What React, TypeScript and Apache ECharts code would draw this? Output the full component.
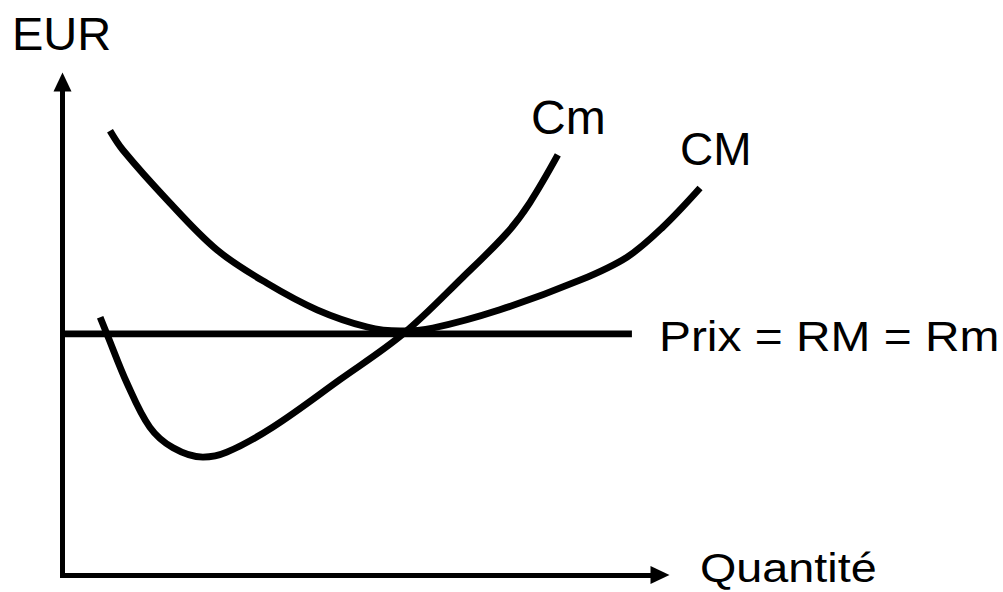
import React, { useEffect, useRef } from "react";
import * as echarts from "echarts";

// Axis ranges (arbitrary units: quantity and EUR)
const xRange = [0, 100];
const yRange = [0, 100];
// Wider, invisible plotting range so the CM curve may run past the arrow
const xPlotRange = [0, 110];

// Marginal cost curve (Cm): [quantity, EUR]
const cmPoints: number[][] = [
  [6.3, 52.3], [7.5, 48.7], [10.8, 38.9], [14.6, 30.0], [18.5, 25.8],
  [23.5, 23.9], [27.5, 24.9], [35.2, 30.0], [46.4, 39.6], [57.0, 48.9],
  [67.0, 60.4], [74.4, 69.4], [78.2, 75.5], [82.9, 85.2],
];

// Average cost curve (CM): [quantity, EUR]
const avgCostPoints: number[][] = [
  [7.95, 90.1], [10.1, 86.2], [17.5, 76.1], [25.9, 65.9], [34.2, 59.2],
  [42.6, 53.8], [51.0, 50.3], [56.5, 49.5], [62.0, 50.1], [73.2, 53.8],
  [86.6, 59.8], [94.5, 64.5], [100.5, 70.6], [106.7, 78.5],
];

// Price line (Prix = RM = Rm)
const priceLevel = 48.9;
const priceSpan = [0, 95.3];

// Texts
const yAxisTitle = "EUR";
const xAxisTitle = "Quantité";
const cmLabel = "Cm";
const avgCostLabel = "CM";
const priceLabel = "Prix = RM = Rm";

const FONT = "'Liberation Sans', Arial, sans-serif";

export default function App() {
  const ref = useRef<HTMLDivElement>(null);

  useEffect(() => {
    if (!ref.current) return;
    const chart = echarts.init(ref.current, undefined, { renderer: "svg" });
    const axisLine = {
      show: true,
      symbol: ["none", "triangle"],
      symbolSize: [18, 19],
      lineStyle: { color: "#000", width: 5, cap: "square" },
    };
    const hidden = {
      axisLine: { show: false },
      axisTick: { show: false },
      axisLabel: { show: false },
      splitLine: { show: false },
    };
    const left = 62.5;
    const axisEnd = 660;
    const pxPerUnit = (axisEnd - left) / (xRange[1] - xRange[0]);
    const plotRight = 1003 - (left + pxPerUnit * (xPlotRange[1] - xPlotRange[0]));
    const lineStyle = { color: "#000", width: 6.8 };
    chart.setOption({
      animation: false,
      backgroundColor: "#fff",
      grid: [
        { left, right: 1003 - axisEnd, top: 82, bottom: 17, containLabel: false },
        { left, right: plotRight, top: 82, bottom: 17, containLabel: false },
      ],
      xAxis: [
        {
          type: "value",
          gridIndex: 0,
          min: xRange[0],
          max: xRange[1],
          axisLine,
          axisTick: { show: false },
          axisLabel: { show: false },
          splitLine: { show: false },
        },
        { type: "value", gridIndex: 1, min: xPlotRange[0], max: xPlotRange[1], ...hidden },
      ],
      yAxis: [
        {
          type: "value",
          gridIndex: 0,
          min: yRange[0],
          max: yRange[1],
          axisLine,
          axisTick: { show: false },
          axisLabel: { show: false },
          splitLine: { show: false },
        },
        { type: "value", gridIndex: 1, min: yRange[0], max: yRange[1], ...hidden },
      ],
      series: [
        {
          name: priceLabel,
          type: "line",
          xAxisIndex: 1,
          yAxisIndex: 1,
          data: priceSpan.map((x) => [x, priceLevel]),
          showSymbol: false,
          clip: false,
          lineStyle,
        },
        {
          name: cmLabel,
          type: "line",
          xAxisIndex: 1,
          yAxisIndex: 1,
          data: cmPoints,
          smooth: 0.35,
          showSymbol: false,
          clip: false,
          lineStyle,
        },
        {
          name: avgCostLabel,
          type: "line",
          xAxisIndex: 1,
          yAxisIndex: 1,
          data: avgCostPoints,
          smooth: 0.35,
          showSymbol: false,
          clip: false,
          lineStyle,
        },
      ],
      graphic: [
        {
          type: "text",
          x: 12,
          y: 33,
          style: { text: yAxisTitle, font: `47px ${FONT}`, fill: "#000", verticalAlign: "middle" },
        },
        {
          type: "text",
          x: 531,
          y: 117.5,
          style: { text: cmLabel, font: `48px ${FONT}`, fill: "#000", verticalAlign: "middle" },
        },
        {
          type: "text",
          x: 680,
          y: 148.5,
          style: { text: avgCostLabel, font: `46px ${FONT}`, fill: "#000", verticalAlign: "middle" },
        },
        {
          type: "text",
          x: 659,
          y: 337,
          scaleX: 1.14,
          style: { text: priceLabel, font: `42px ${FONT}`, fill: "#000", verticalAlign: "middle" },
        },
        {
          type: "text",
          x: 700,
          y: 567.5,
          scaleX: 1.14,
          style: { text: xAxisTitle, font: `41px ${FONT}`, fill: "#000", verticalAlign: "middle" },
        },
      ],
    });
    return () => chart.dispose();
  }, []);

  return (
    <div
      ref={ref}
      style={{ position: "absolute", left: 0, top: 0, width: 1003, height: 592, background: "#fff" }}
    />
  );
}
